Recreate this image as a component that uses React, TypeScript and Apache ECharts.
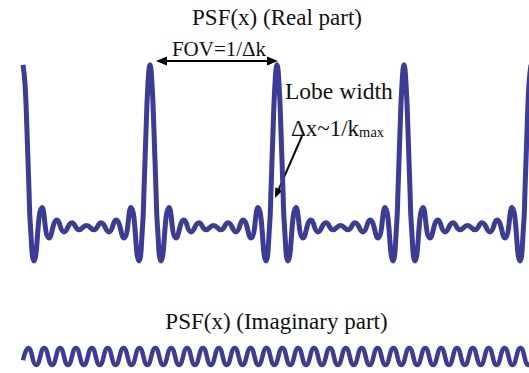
import React, { useEffect, useRef } from "react";
import * as echarts from "echarts";

// x in units of FOV (peak-to-peak distance = 1)
const periodStarts = [0, 1, 2, 3];
const lastPeak = 4;
// one period of the real part (offset from a peak, value)
const realOffsets = [0, 0.016, 0.031, 0.047, 0.059, 0.087, 0.15, 0.205, 0.268, 0.323, 0.386, 0.441, 0.5, 0.559, 0.614, 0.677, 0.732, 0.795, 0.85, 0.913, 0.941, 0.953, 0.969, 0.984];
const realValues = [1, 0.88, 0.6, 0.23, 0, -0.21, 0.12, -0.068, 0.043, -0.031, 0.025, -0.018, 0.008, -0.018, 0.025, -0.031, 0.043, -0.068, 0.12, -0.21, 0, 0.23, 0.6, 0.88];
// imaginary part: extrema within one FOV
const imagStart = [0, -0.45];
const imagOffsets = [0.042, 0.104, 0.167, 0.229, 0.292, 0.354, 0.417, 0.479, 0.542, 0.604, 0.667, 0.729, 0.792, 0.854, 0.917, 0.979];
const imagValues = [1, -1, 1, -1, 1, -1, 1, -1, 1, -1, 1, -1, 1, -1, 1, -1];
const imagPeriods = [0, 1, 2, 3, 4];

const titleReal = "PSF(x) (Real part)";
const titleImag = "PSF(x) (Imaginary part)";
const fovLabel = "FOV=1/Δk";
const lobeLabel = "Lobe width";

const COLOR = "#3b3b98";
const FONT = "Liberation Serif";

function txt(x: number, y: number, text: string, align: string, size = 23) {
  return {
    type: "text",
    x,
    y,
    style: { text, fontFamily: FONT, fontSize: size, fill: "#111", align, verticalAlign: "middle" },
  };
}

export default function App() {
  const ref = useRef<HTMLDivElement>(null);
  useEffect(() => {
    if (!ref.current) return;
    const chart = echarts.init(ref.current, undefined, { renderer: "svg" });
    const realData: number[][] = [];
    periodStarts.forEach((p) => {
      realOffsets.forEach((o, i) => realData.push([p + o, realValues[i]]));
    });
    realData.push([lastPeak, 1]);
    const imagData: number[][] = [imagStart];
    imagPeriods.forEach((p) => {
      imagOffsets.forEach((o, i) => imagData.push([p + o, imagValues[i]]));
    });
    const xMin = -23 / 127;
    const xMax = 506 / 127;
    const u = { x: -0.394, y: 0.92 };
    const tip = [275, 198];
    const base = [tip[0] - 10 * u.x, tip[1] - 10 * u.y];
    chart.setOption({
      animation: false,
      backgroundColor: "#ffffff",
      grid: [
        { left: 0, right: 0, top: 60, height: 215.5 },
        { left: 0, right: 0, top: 344.6, height: 23.8 },
      ],
      xAxis: [
        { type: "value", gridIndex: 0, min: xMin, max: xMax, show: false },
        { type: "value", gridIndex: 1, min: xMin, max: xMax, show: false },
      ],
      yAxis: [
        { type: "value", gridIndex: 0, min: -0.3, max: 1.03, show: false },
        { type: "value", gridIndex: 1, min: -1.4, max: 1.4, show: false },
      ],
      series: [
        {
          type: "line",
          xAxisIndex: 0,
          yAxisIndex: 0,
          data: realData,
          showSymbol: false,
          smooth: 0.5,
          clip: false,
          lineStyle: { color: COLOR, width: 5 },
        },
        {
          type: "line",
          xAxisIndex: 1,
          yAxisIndex: 1,
          data: imagData,
          showSymbol: false,
          smooth: 0.5,
          clip: true,
          lineStyle: { color: COLOR, width: 4.5 },
        },
      ],
      graphic: [
        txt(277, 17, titleReal, "center"),
        txt(219, 49, fovLabel, "center", 21),
        {
          type: "line",
          shape: { x1: 165, y1: 61, x2: 269, y2: 61 },
          style: { stroke: "#000", lineWidth: 2 },
        },
        {
          type: "polygon",
          shape: { points: [[156, 61], [167, 56.5], [167, 65.5]] },
          style: { fill: "#000" },
        },
        {
          type: "polygon",
          shape: { points: [[278, 61], [267, 56.5], [267, 65.5]] },
          style: { fill: "#000" },
        },
        txt(285, 91, lobeLabel, "left", 23.5),
        {
          type: "text",
          x: 291,
          y: 126,
          style: {
            text: "{a|Δx~1/k}{s|max}",
            align: "left",
            verticalAlign: "middle",
            rich: {
              a: { fontSize: 23, fontFamily: FONT, fill: "#111", lineHeight: 27, verticalAlign: "bottom" },
              s: { fontSize: 14.5, fontFamily: FONT, fill: "#111", lineHeight: 15, verticalAlign: "bottom" },
            },
          },
        },
        {
          type: "line",
          shape: { x1: 302, y1: 136, x2: base[0], y2: base[1] },
          style: { stroke: "#000", lineWidth: 2 },
        },
        {
          type: "polygon",
          shape: {
            points: [
              tip,
              [base[0] + 4 * u.y, base[1] - 4 * u.x],
              [base[0] - 4 * u.y, base[1] + 4 * u.x],
            ],
          },
          style: { fill: "#000" },
        },
        txt(276.5, 321, titleImag, "center"),
      ],
    });
    return () => chart.dispose();
  }, []);
  return (
    <div
      ref={ref}
      style={{ position: "fixed", left: 0, top: 0, width: 529, height: 373, background: "#fff" }}
    />
  );
}
